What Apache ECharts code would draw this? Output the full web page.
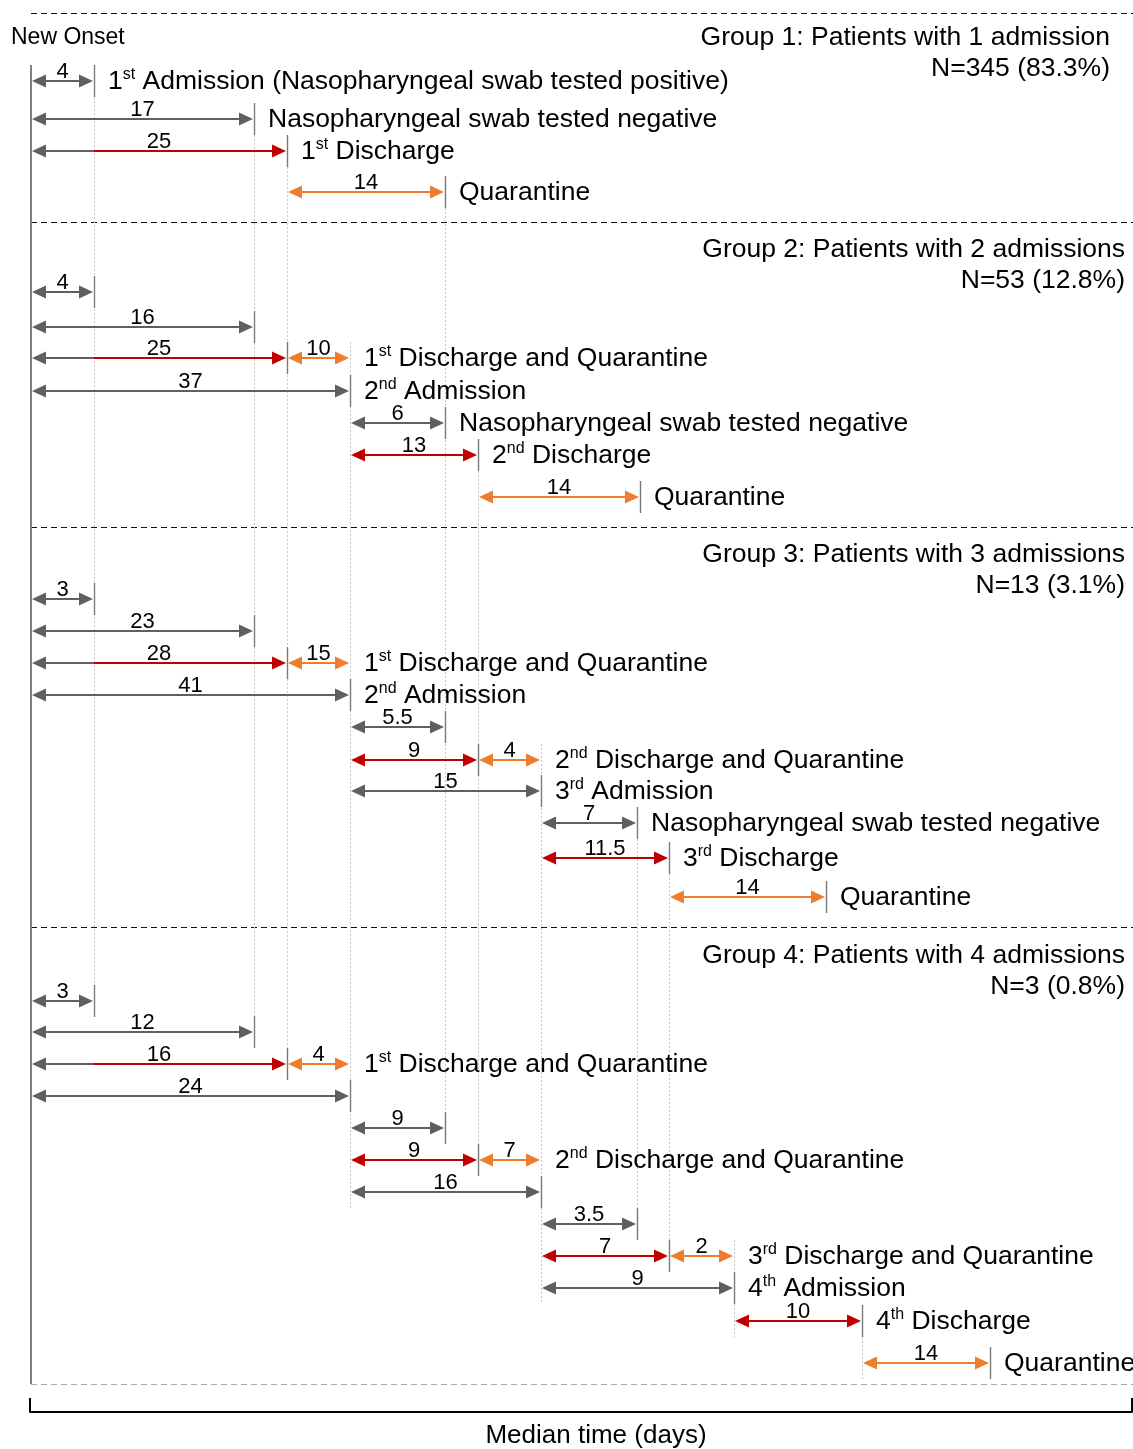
<!DOCTYPE html>
<html lang="en">
<head>
<meta charset="UTF-8">
<title>Median time from onset to admission, discharge and quarantine</title>
<script src="https://cdn.jsdelivr.net/npm/echarts@6/dist/echarts.min.js"></script>
<style>
  html, body { margin: 0; padding: 0; background: #fff; }
  #main { width: 1133px; height: 1449px; }
</style>
</head>
<body>
<div id="main"></div>
<script>
// schematic milestone positions on the time line (the figure is not to scale)
var milestones = [1, 64, 224, 257, 320, 415, 448, 511, 607, 639, 704, 796, 832, 960, 610];

var groupTitles = [
  'Group 1: Patients with 1 admission',
  'Group 2: Patients with 2 admissions',
  'Group 3: Patients with 3 admissions',
  'Group 4: Patients with 4 admissions'
];
var groupN = ['N=345 (83.3%)', 'N=53 (12.8%)', 'N=13 (3.1%)', 'N=3 (0.8%)'];

// arrows: [row, from milestone, to milestone, median days, phase]
var group1Arrows = [
  [0, 0, 1, '4', 'interval'],
  [1, 0, 2, '17', 'interval'],
  [2, 0, 3, '25', 'onsetStay'],
  [3, 3, 5, '14', 'quarantineEnd']
];
var group2Arrows = [
  [0, 0, 1, '4', 'interval'],
  [1, 0, 2, '16', 'interval'],
  [2, 0, 3, '25', 'onsetStay'],
  [2, 3, 4, '10', 'quarantine'],
  [3, 0, 4, '37', 'interval'],
  [4, 4, 5, '6', 'interval'],
  [5, 4, 6, '13', 'stay'],
  [6, 6, 14, '14', 'quarantineEnd']
];
var group3Arrows = [
  [0, 0, 1, '3', 'interval'],
  [1, 0, 2, '23', 'interval'],
  [2, 0, 3, '28', 'onsetStay'],
  [2, 3, 4, '15', 'quarantine'],
  [3, 0, 4, '41', 'interval'],
  [4, 4, 5, '5.5', 'interval'],
  [5, 4, 6, '9', 'stay'],
  [5, 6, 7, '4', 'quarantine'],
  [6, 4, 7, '15', 'interval'],
  [7, 7, 8, '7', 'interval'],
  [8, 7, 9, '11.5', 'stay'],
  [9, 9, 11, '14', 'quarantineEnd']
];
var group4Arrows = [
  [0, 0, 1, '3', 'interval'],
  [1, 0, 2, '12', 'interval'],
  [2, 0, 3, '16', 'onsetStay'],
  [2, 3, 4, '4', 'quarantine'],
  [3, 0, 4, '24', 'interval'],
  [4, 4, 5, '9', 'interval'],
  [5, 4, 6, '9', 'stay'],
  [5, 6, 7, '7', 'quarantine'],
  [6, 4, 7, '16', 'interval'],
  [7, 7, 8, '3.5', 'interval'],
  [8, 7, 9, '7', 'stay'],
  [8, 9, 10, '2', 'quarantine'],
  [9, 7, 10, '9', 'interval'],
  [10, 10, 12, '10', 'stay'],
  [11, 12, 13, '14', 'quarantineEnd']
];

// events: [row, text]
var group1Events = [
  [0, '1st Admission (Nasopharyngeal swab tested positive)'],
  [1, 'Nasopharyngeal swab tested negative'],
  [2, '1st Discharge'],
  [3, 'Quarantine']
];
var group2Events = [
  [2, '1st Discharge and Quarantine'],
  [3, '2nd Admission'],
  [4, 'Nasopharyngeal swab tested negative'],
  [5, '2nd Discharge'],
  [6, 'Quarantine']
];
var group3Events = [
  [2, '1st Discharge and Quarantine'],
  [3, '2nd Admission'],
  [5, '2nd Discharge and Quarantine'],
  [6, '3rd Admission'],
  [7, 'Nasopharyngeal swab tested negative'],
  [8, '3rd Discharge'],
  [9, 'Quarantine']
];
var group4Events = [
  [2, '1st Discharge and Quarantine'],
  [5, '2nd Discharge and Quarantine'],
  [8, '3rd Discharge and Quarantine'],
  [9, '4th Admission'],
  [10, '4th Discharge'],
  [11, 'Quarantine']
];

// layout (vertical axis runs top to bottom)
var groupTop = [13, 222, 527, 927];
var titleY = [38, 250, 555, 956];
var rowY = [
  [81, 119, 151, 192],
  [292, 327, 358, 391, 423, 455, 497],
  [599, 631, 663, 695, 727, 760, 791, 823, 858, 897],
  [1001, 1032, 1064, 1096, 1128, 1160, 1192, 1224, 1256, 1288, 1321, 1363]
];
var titleRight = [1080, 1095, 1095, 1095];
var plotEnd = 1384;

var FONT = '"Liberation Sans", Arial, Helvetica, sans-serif';
var GREY = '#5f5f5f', RED = '#c00000', ORANGE = '#ed7d31', TICK = '#7a7a7a', GUIDE = '#c6c6c6';

var groupArrows = [group1Arrows, group2Arrows, group3Arrows, group4Arrows];
var groupEvents = [group1Events, group2Events, group3Events, group4Events];

var arrows = [];
groupArrows.forEach(function (list, g) {
  list.forEach(function (a) {
    arrows.push({ g: g, row: a[0], y: rowY[g][a[0]], from: a[1], to: a[2], days: a[3], kind: a[4] });
  });
});

var events = [];
groupEvents.forEach(function (list, g) {
  list.forEach(function (e) {
    var end = 0;
    arrows.forEach(function (a) {
      if (a.g === g && a.row === e[0]) end = Math.max(end, milestones[a.to]);
    });
    events.push([end, rowY[g][e[0]], e[1]]);
  });
});

// dotted guide lines: each milestone from its first to its last use
var guides = [];
milestones.forEach(function (m, i) {
  if (i === 0) return;
  var lo = Infinity, hi = -Infinity;
  arrows.forEach(function (a) {
    if (a.from === i || a.to === i) { lo = Math.min(lo, a.y); hi = Math.max(hi, a.y); }
  });
  if (lo < Infinity) guides.push([m, lo - 16, hi + 16]);
});

var headers = [];
groupTitles.forEach(function (t, g) {
  headers.push([titleRight[g], titleY[g], t]);
  headers.push([titleRight[g], titleY[g] + 31, groupN[g]]);
});

function richText(s) {
  var m = /^(\d)(st|nd|rd|th)(.*)$/.exec(s);
  if (!m) return '{b|' + s + '}';
  return '{b|' + m[1] + '}{s|' + m[2] + '}{b|' + m[3] + '}';
}

function seg(x1, y1, x2, y2, color, width, dash) {
  return {
    type: 'line',
    shape: { x1: x1, y1: y1, x2: x2, y2: y2 },
    style: { stroke: color, lineWidth: width, lineDash: dash || null }
  };
}

function head(x, y, dir, color) {
  var L = 14, W = 6.5;
  return {
    type: 'polygon',
    shape: { points: [[x, y], [x - dir * L, y - W], [x - dir * L, y + W]] },
    style: { fill: color }
  };
}

function renderArrow(params, api) {
  var a = arrows[params.dataIndex];
  var p1 = api.coord([api.value(0), api.value(2)]);
  var p2 = api.coord([api.value(1), api.value(2)]);
  var y = p1[1];
  var kids = [];
  var col = a.kind === 'interval' ? GREY : (a.kind === 'stay' || a.kind === 'onsetStay') ? RED : ORANGE;
  var leftCol = a.kind === 'onsetStay' ? GREY : col;
  if (a.kind === 'onsetStay') {
    var pm = api.coord([milestones[1], a.y]);
    kids.push(seg(p1[0] + 4, y, pm[0], y, GREY, 2));
    kids.push(seg(pm[0], y, p2[0] - 4, y, RED, 2));
  } else {
    kids.push(seg(p1[0] + 4, y, p2[0] - 4, y, col, 2));
  }
  if (a.kind !== 'quarantine') {
    kids.push(seg(p2[0] + 0.5, y - 16, p2[0] + 0.5, y + 16, TICK, 1.4));
  }
  kids.push(head(p1[0] + 1, y, -1, leftCol));
  kids.push(head(p2[0] - 1, y, 1, col));
  kids.push({
    type: 'text',
    style: {
      x: (p1[0] + p2[0]) / 2, y: y - 9, text: a.days,
      fontSize: 22, fontFamily: FONT, fill: '#000', align: 'center', verticalAlign: 'middle'
    }
  });
  return { type: 'group', children: kids };
}

function renderGuide(params, api) {
  var p1 = api.coord([api.value(0), api.value(1)]);
  var p2 = api.coord([api.value(0), api.value(2)]);
  return seg(p1[0] + 0.5, p1[1], p1[0] + 0.5, p2[1], GUIDE, 1, [2, 2]);
}

function renderEvent(params, api) {
  var p = api.coord([api.value(0), api.value(1)]);
  return {
    type: 'text',
    style: {
      x: p[0] + 14, y: p[1] + 1, text: richText(events[params.dataIndex][2]),
      fill: '#000', align: 'left', verticalAlign: 'middle',
      rich: {
        b: { fontSize: 26.5, fontFamily: FONT, fill: '#000', lineHeight: 30 },
        s: { fontSize: 16, fontFamily: FONT, fill: '#000', lineHeight: 18, verticalAlign: 'top' }
      }
    }
  };
}

function renderHeader(params, api) {
  var p = api.coord([api.value(0), api.value(1)]);
  return {
    type: 'text',
    style: {
      x: p[0], y: p[1], text: headers[params.dataIndex][2],
      fontSize: 26.5, fontFamily: FONT, fill: '#000', align: 'right', verticalAlign: 'middle'
    }
  };
}

function renderFrame(params, api) {
  var kids = [];
  var left = api.coord([milestones[0], 0])[0];
  var right = api.coord([1103, 0])[0];
  groupTop.forEach(function (t) {
    var y = api.coord([0, t])[1];
    kids.push(seg(left, y + 0.5, right, y + 0.5, '#111', 1, [6, 4]));
  });
  var yb = api.coord([0, plotEnd])[1];
  kids.push(seg(left, yb + 0.5, right, yb + 0.5, '#a8a8a8', 1, [6, 4]));
  // onset line
  var yTop = api.coord([0, 65])[1];
  kids.push(seg(left, yTop, left, yb, '#808080', 2));
  kids.push({
    type: 'text',
    style: {
      x: left - 20, y: api.coord([0, titleY[0]])[1], text: 'New Onset',
      fontSize: 23, fontFamily: FONT, fill: '#000', align: 'left', verticalAlign: 'middle'
    }
  });
  return { type: 'group', children: kids };
}

var chart = echarts.init(document.getElementById('main'));

var option = {
  animation: false,
  backgroundColor: '#fff',
  grid: { left: 30, right: 1, top: 0, bottom: 37, containLabel: false, outerBoundsMode: 'none' },
  xAxis: {
    type: 'value', min: 0, max: 1102, interval: 1102, position: 'bottom',
    axisLine: { show: true, onZero: false, lineStyle: { color: '#000', width: 2 } },
    axisTick: { show: true, inside: true, length: 14, lineStyle: { color: '#000', width: 2 } },
    axisLabel: { show: false },
    splitLine: { show: false },
    name: 'Median time (days)',
    nameLocation: 'middle',
    nameGap: 11,
    nameTextStyle: { fontSize: 26, fontFamily: FONT, color: '#000', padding: [0, 0, 0, 30] }
  },
  yAxis: { type: 'value', inverse: true, min: 0, max: 1412, show: false },
  series: [
    { type: 'custom', name: 'frame', clip: false, silent: true, renderItem: renderFrame, data: [[0, 0]] },
    { type: 'custom', name: 'guides', clip: false, silent: true, renderItem: renderGuide, data: guides },
    {
      type: 'custom', name: 'arrows', clip: false, silent: true, renderItem: renderArrow,
      data: arrows.map(function (a) { return [milestones[a.from], milestones[a.to], a.y]; })
    },
    {
      type: 'custom', name: 'events', clip: false, silent: true, renderItem: renderEvent,
      data: events.map(function (e) { return [e[0], e[1]]; })
    },
    {
      type: 'custom', name: 'headers', clip: false, silent: true, renderItem: renderHeader,
      data: headers.map(function (h) { return [h[0], h[1]]; })
    }
  ]
};

chart.setOption(option);
</script>
</body>
</html>
